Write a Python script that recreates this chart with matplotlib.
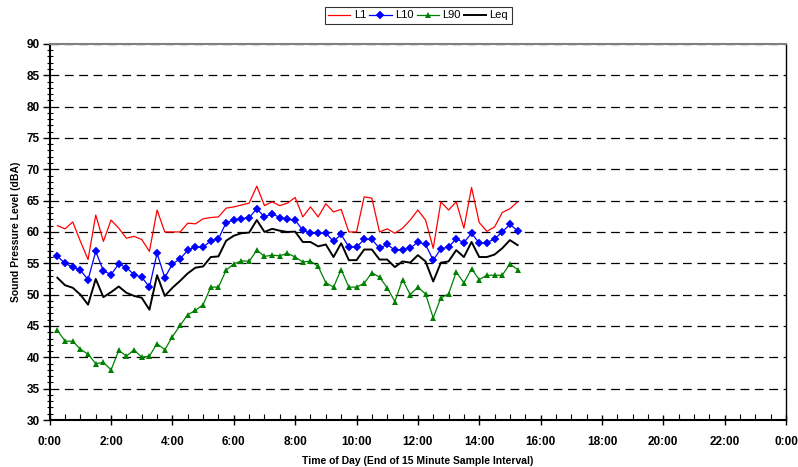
import numpy as np
import matplotlib
matplotlib.use("Agg")
import matplotlib.pyplot as plt
from matplotlib.ticker import MultipleLocator

plt.rcParams['font.family'] = ['Liberation Sans', 'DejaVu Sans']

# End of each 15-minute interval, hours (0:15 ... 15:15)
hours = np.arange(1, 62) * 0.25

L1 = [61.0, 60.5, 61.6, 58.5, 55.6, 62.7, 58.5, 61.9, 60.6, 59.0, 59.3, 58.8, 56.9, 63.5, 60.0, 60.0,
      60.0, 61.4, 61.3, 62.1, 62.3, 62.4, 63.8, 64.0, 64.3, 64.6, 67.3, 64.2, 64.8, 64.2, 64.6, 65.5,
      62.4, 64.0, 62.4, 64.5, 63.2, 63.6, 60.0, 60.0, 65.6, 65.4, 60.0, 60.5, 59.8, 60.6, 61.9, 63.5,
      61.9, 57.4, 64.8, 63.5, 64.8, 60.6, 67.1, 61.5, 60.1, 60.8, 63.1, 63.7, 64.8]
L10 = [56.1, 55.0, 54.4, 53.9, 52.4, 56.9, 53.8, 53.2, 54.9, 54.3, 53.2, 52.8, 51.2, 56.6, 52.7, 54.9,
       55.7, 57.1, 57.6, 57.55, 58.6, 58.9, 61.5, 61.9, 62.1, 62.3, 63.7, 62.4, 62.9, 62.3, 62.0, 61.9,
       60.25, 59.8, 59.8, 59.8, 58.5, 59.6, 57.6, 57.6, 58.8, 58.8, 57.4, 58.0, 57.1, 57.2, 57.4, 58.4,
       58.0, 55.5, 57.3, 57.6, 58.9, 58.3, 59.8, 58.2, 58.3, 58.9, 60.0, 61.2, 60.2]
L90 = [44.3, 42.6, 42.55, 41.3, 40.5, 39.0, 39.2, 38.0, 41.1, 40.2, 41.2, 40.0, 40.2, 42.2, 41.2, 43.3,
       45.1, 46.8, 47.5, 48.4, 51.2, 51.2, 53.9, 54.9, 55.4, 55.3, 57.1, 56.1, 56.3, 56.2, 56.6, 56.0,
       55.2, 55.35, 54.5, 51.9, 51.2, 54.0, 51.2, 51.2, 51.8, 53.5, 52.8, 51.1, 48.9, 52.4, 50.0, 51.2,
       50.1, 46.3, 49.5, 50.1, 53.6, 51.9, 54.1, 52.4, 53.1, 53.1, 53.1, 54.9, 54.0]
Leq = [52.7, 51.5, 51.1, 50.0, 48.4, 52.5, 49.6, 50.4, 51.3, 50.3, 49.8, 49.5, 47.6, 53.1, 49.8, 51.1,
       52.2, 53.4, 54.3, 54.5, 56.0, 56.1, 58.6, 59.4, 59.8, 59.9, 61.9, 60.0, 60.5, 60.2, 60.0, 60.05,
       58.4, 58.4, 57.7, 58.0, 56.0, 58.2, 55.5, 55.5, 57.2, 57.2, 55.6, 55.6, 54.4, 55.3, 55.1, 56.3,
       55.3, 52.1, 55.1, 55.3, 57.1, 56.0, 58.4, 56.0, 56.0, 56.4, 57.4, 58.7, 57.9]

xtick_hours = list(range(0, 25, 2))
xtick_labels = ["0:00", "2:00", "4:00", "6:00", "8:00", "10:00", "12:00", "14:00", "16:00",
                "18:00", "20:00", "22:00", "0:00"]

fig = plt.figure(figsize=(7.98, 4.67), dpi=100)
ax = fig.add_axes([0.0623, 0.1006, 0.9227, 0.8054])

for y in range(35, 91, 5):
    ax.axhline(y, color='black', linestyle=(0, (7, 4.5)), linewidth=0.9, zorder=1)

ax.plot(hours, L1, color='#FF0000', linewidth=0.9, label='L1', zorder=3)
ax.plot(hours, L10, color='#0000FF', linewidth=0.9, marker='D', markersize=3.6,
        markeredgewidth=0.3, label='L10', zorder=4)
ax.plot(hours, L90, color='#008000', linewidth=0.9, marker='^', markersize=4.6,
        markeredgewidth=0, label='L90', zorder=3)
ax.plot(hours, Leq, color='black', linewidth=1.4, label='Leq', zorder=3)

ax.set_xlim(0, 24)
ax.set_ylim(30, 90)
ax.set_xticks(xtick_hours)
ax.set_xticklabels(xtick_labels, fontsize=8.5, fontweight='bold')
ax.xaxis.set_minor_locator(MultipleLocator(0.5))
ax.yaxis.set_major_locator(MultipleLocator(5))
ax.yaxis.set_minor_locator(MultipleLocator(1))
for lab in ax.get_yticklabels():
    lab.set_fontsize(8.5)
    lab.set_fontweight('bold')

ax.tick_params(axis='x', which='major', direction='inout', length=7, width=1, pad=8)
ax.tick_params(axis='x', which='minor', direction='in', length=4, width=0.8)
ax.tick_params(axis='y', which='major', direction='out', length=5, width=1, pad=2)
ax.tick_params(axis='y', which='minor', direction='inout', length=4, width=0.8)

ax.spines['left'].set_linewidth(1.5)
ax.spines['bottom'].set_linewidth(1.5)
ax.spines['right'].set_linewidth(1.0)
ax.spines['top'].set_color('#808080')
ax.spines['top'].set_linewidth(1.5)

ax.set_xlabel('Time of Day (End of 15 Minute Sample Interval)', fontsize=7.5,
              fontweight='bold', labelpad=6)
ax.set_ylabel('Sound Pressure Level (dBA)', fontsize=7.5, fontweight='bold', labelpad=4)

leg = fig.legend(loc='center', bbox_to_anchor=(0.524, 0.967), ncol=4, fontsize=8,
                 frameon=True, fancybox=False, edgecolor='black', handlelength=2.0,
                 handletextpad=0.3, columnspacing=0.3, borderpad=0.3, borderaxespad=0)
leg.get_frame().set_linewidth(0.8)

fig.savefig('out.png', dpi=100)
